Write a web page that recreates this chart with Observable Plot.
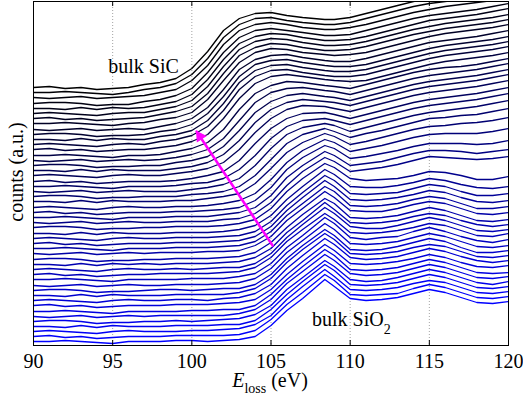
<!DOCTYPE html>
<html><head><meta charset="utf-8">
<script src="https://cdn.jsdelivr.net/npm/d3@7"></script>
<script src="https://cdn.jsdelivr.net/npm/@observablehq/plot@0.6"></script>
<style>body{margin:0;background:#fff} svg{display:block}</style>
</head><body><div id="chart"></div>
<script>
// Energy-loss grid (eV)
const energy = [90,91,92,93,94,95,96,97,98,99,100,101,102,103,104,105,106,107,108.4,109,110,111,112,113,114,115,116,117,118,119,120];
const xTicks = [90,95,100,105,110,115,120];
const gridTicks = [95,100,105,110,115];
// waterfall offsets (a.u.), top spectrum (bulk SiC) first, bottom (bulk SiO2) last
const offsets = [258,253,248,242,237,232,227,222,216,211,206,201,196,190,185,180,175,170,164,159,154,149,144,138,133,128,123,118,112,107,102,97,92,86,81,76,71,66,60,55,50,45,40,34,29,24,19,14,9,4];
// spectra (counts above each offset, a.u.)
const spectra = [
[0,1,-1,0,-2,-1,0,3,5,9,19,36,57,69,74,75,72,70,68,68,70,74,78,82,86,89,91,93,95,98,101],
[0,0,1,0,-1,-2,0,3,5,9,18,34,55,68,74,75,72,70,68,68,70,74,78,82,86,89,91,93,95,98,101],
[0,-1,0,1,-1,0,1,2,5,8,17,32,53,67,73,75,73,70,68,68,70,73,77,81,85,88,91,93,95,97,100],
[0,1,1,0,-2,-1,-1,2,4,8,15,31,51,66,73,75,73,71,68,68,69,73,77,81,85,88,90,92,94,97,100],
[0,0,-1,1,-1,1,0,1,4,7,14,29,49,65,72,75,74,71,68,68,69,72,76,80,84,88,90,92,94,97,100],
[0,1,0,-1,-2,0,1,1,4,7,13,27,47,64,72,75,74,71,68,68,69,72,76,80,84,87,90,92,94,96,99],
[0,1,-1,0,-2,-1,0,1,4,7,12,25,45,63,71,75,74,71,68,68,69,72,76,80,84,87,90,92,94,96,99],
[0,0,1,0,-1,-2,0,1,4,6,11,24,43,61,71,75,74,71,69,68,69,71,75,79,83,87,90,92,94,96,99],
[0,-1,0,1,-1,0,1,0,3,6,11,22,40,60,70,74,75,72,69,68,68,71,75,79,83,87,89,91,93,96,99],
[0,1,1,0,-2,-1,-1,0,3,5,10,21,38,58,70,74,75,72,69,68,68,70,74,78,82,86,89,91,93,95,98],
[0,0,-1,1,-1,1,0,0,3,5,9,19,36,57,69,74,75,72,69,68,68,70,74,78,82,86,89,91,93,95,98],
[0,1,0,-1,-2,0,1,0,3,5,9,18,34,55,68,74,75,72,69,68,68,70,74,78,82,86,89,91,93,95,98],
[0,1,-1,0,-2,-1,0,0,2,4,8,15,31,51,66,73,75,73,70,69,68,69,73,77,81,85,88,90,92,94,97],
[0,0,1,0,-1,-2,0,0,1,4,7,13,26,46,62,70,74,73,70,69,67,71,75,79,83,86,88,89,91,94,97],
[0,-1,0,1,-1,0,1,0,1,3,6,11,22,40,58,68,72,73,70,69,66,70,74,78,82,85,87,89,91,94,97],
[0,1,1,0,-2,-1,-1,0,0,3,5,9,19,35,53,64,70,72,69,68,65,69,73,77,81,84,86,88,90,93,96],
[0,0,-1,1,-1,1,0,0,0,2,4,8,16,30,48,61,68,71,69,68,65,69,73,77,81,84,86,88,90,93,96],
[0,1,0,-1,-2,0,1,0,0,2,4,7,13,26,43,57,66,70,69,67,64,68,72,76,80,83,85,87,89,92,95],
[0,1,-1,0,-2,-1,0,0,0,1,3,6,10,21,38,53,63,68,69,67,63,67,71,75,79,82,84,86,88,91,94],
[0,0,1,0,-1,-2,0,0,0,1,3,4,8,17,31,48,60,66,68,66,62,66,70,74,78,81,83,85,87,90,93],
[0,-1,0,1,-1,0,1,0,0,0,2,4,7,13,26,43,57,64,68,66,60,64,68,72,76,79,81,83,85,88,91],
[0,1,1,0,-2,-1,-1,0,0,0,2,3,5,10,21,37,53,62,68,65,59,63,66,70,74,78,79,81,82,85,88],
[0,0,-1,1,-1,1,0,0,0,1,1,3,5,8,18,33,49,59,68,65,57,60,64,68,72,75,76,78,79,81,84],
[0,1,0,-1,-2,0,1,0,0,1,1,2,4,7,14,28,45,57,68,65,56,59,62,66,70,73,74,74,74,76,79],
[0,1,-1,0,-2,-1,0,0,0,1,1,2,3,5,12,25,43,55,67,64,54,56,59,62,66,69,69,69,68,69,72],
[0,0,1,0,-1,-2,0,0,0,1,1,1,3,5,10,22,40,52,66,62,52,54,56,60,64,67,67,66,64,66,68],
[0,-1,0,1,-1,0,1,0,0,1,1,1,3,4,9,20,37,51,65,61,51,53,55,58,62,66,65,64,63,64,66],
[0,1,1,0,-2,-1,-1,0,0,1,1,1,2,4,8,19,36,49,64,60,49,47,48,49,52,56,55,52,48,48,51],
[0,0,-1,1,-1,1,0,0,0,1,1,1,2,4,8,18,34,47,64,59,47,46,46,48,51,55,53,49,46,45,47],
[0,1,0,-1,-2,0,1,0,0,1,1,1,2,3,7,17,33,46,63,58,45,44,45,46,50,54,52,47,43,43,45],
[0,1,-1,0,-2,-1,0,0,0,1,1,1,2,3,7,17,33,46,63,57,44,43,44,46,49,53,51,46,42,41,43],
[0,0,1,0,-1,-2,0,0,0,1,1,1,2,3,7,17,33,45,62,57,43,42,43,45,49,52,50,45,40,40,42],
[0,-1,0,1,-1,0,1,0,1,1,1,2,2,3,8,17,33,45,62,56,43,42,42,45,49,52,50,45,40,39,41],
[0,1,1,0,-2,-1,-1,0,0,1,1,1,2,3,7,17,32,45,61,56,42,41,42,44,48,52,49,44,39,38,40],
[0,0,-1,1,-1,1,0,1,0,1,1,1,2,3,7,16,32,44,62,55,42,41,42,44,48,51,49,44,40,38,40],
[0,1,0,-1,-2,0,1,0,0,1,0,1,2,2,6,16,32,45,62,56,43,41,41,44,48,52,49,44,39,38,40],
[0,1,-1,0,-2,-1,0,0,1,1,1,1,2,3,7,17,33,45,61,55,42,41,42,44,47,51,49,44,39,38,41],
[0,0,1,0,-1,-2,0,0,0,0,1,1,1,3,6,16,32,44,62,56,42,40,42,43,48,52,48,43,39,37,40],
[0,-1,0,1,-1,0,1,0,0,1,1,1,2,3,7,17,33,45,62,56,42,41,42,44,48,52,49,44,39,38,40],
[0,1,1,0,-2,-1,-1,0,1,1,0,1,2,2,6,16,32,45,61,55,41,40,41,44,48,52,49,43,38,38,40],
[0,0,-1,1,-1,1,0,0,0,1,1,1,1,3,7,17,33,46,62,56,42,41,42,44,48,51,49,44,39,38,40],
[0,1,0,-1,-2,0,1,0,0,1,1,0,2,3,7,16,32,45,62,56,43,41,42,44,48,52,49,44,40,38,40],
[0,1,-1,0,-2,-1,0,0,0,1,1,1,2,3,6,16,31,44,61,55,42,41,42,44,47,51,48,43,39,38,40],
[0,0,1,0,-1,-2,0,0,0,0,1,1,2,2,6,17,32,45,62,56,42,41,42,44,48,52,49,44,39,38,39],
[0,-1,0,1,-1,0,1,0,1,1,1,1,1,3,7,17,33,45,62,56,43,41,42,44,48,52,49,44,39,38,40],
[0,1,1,0,-2,-1,-1,0,0,1,0,1,2,3,7,16,32,44,61,55,42,40,41,44,48,52,49,44,39,37,40],
[0,0,-1,1,-1,1,0,0,0,1,1,1,2,2,6,17,32,45,62,56,42,41,42,44,48,52,49,44,39,38,40],
[0,1,0,-1,-2,0,1,0,0,0,1,1,2,3,7,16,32,45,62,55,42,41,42,44,48,51,49,44,39,38,40],
[0,1,-1,0,-2,-1,0,0,0,1,1,1,1,2,6,17,32,44,62,56,42,41,42,43,48,52,49,44,39,38,40],
[0,0,1,0,-1,-2,0,0,0,1,1,0,1,2,5,16,31,43,62,55,43,41,42,44,48,52,49,44,39,38,40]
];
// annotation anchors in data units
const arrowFrom = [105.1, 100];
const arrowTo = [100.3, 214];
const sicLabel = [94.75, 272];
const sio2Label = [107.62, 19];

const rows = [];
spectra.forEach((s, k) => s.forEach((d, j) => rows.push({e: energy[j], v: offsets[k] + d, k})));

const serif = "'Liberation Serif','Times New Roman',serif";
const plot = Plot.plot({
  width: 523, height: 398,
  marginLeft: 33, marginRight: 15, marginTop: 1, marginBottom: 53,
  style: {fontFamily: serif, fontSize: "20px", background: "white", color: "black"},
  x: {domain: [90, 120]},
  y: {domain: [0, 344], axis: null},
  color: {type: "linear", domain: [0, 49], range: ["#000000", "#0000ff"], interpolate: d3.interpolateRgb},
  marks: [
    Plot.ruleX(gridTicks, {stroke: "#8c8c8c", strokeDasharray: "1,2", strokeWidth: 0.8}),
    Plot.line(rows, {x: "e", y: "v", z: "k", stroke: "k", strokeWidth: 1.3, clip: true}),
    Plot.ruleX(xTicks, {y1: 0, y2: 5, stroke: "black"}),
    Plot.ruleX(xTicks, {y1: 339, y2: 344, stroke: "black"}),
    Plot.arrow([{x1: arrowFrom[0], y1: arrowFrom[1], x2: arrowTo[0], y2: arrowTo[1]}],
      {x1: "x1", y1: "y1", x2: "x2", y2: "y2", stroke: "#ff00ff", strokeWidth: 2.5, headLength: 0, bend: 0}),
    Plot.dot([{x: arrowTo[0], y: arrowTo[1]}],
      {x: "x", y: "y", symbol: "triangle", r: 3.8, rotate: -33.7, dx: 3.3, dy: 4.9, fill: "#ff00ff", stroke: "#ff00ff", strokeWidth: 1}),
    Plot.axisX(xTicks, {tickSize: 0, tickPadding: 8, fontSize: 20, label: null, tickFormat: d => String(d)}),
    Plot.frame({stroke: "black", strokeWidth: 1})
  ]
});
document.getElementById("chart").appendChild(plot);

const sx = plot.scale("x"), sy = plot.scale("y");
const svg = d3.select(plot);
svg.append("text").attr("x", sx.apply(sicLabel[0])).attr("y", sy.apply(sicLabel[1]))
  .attr("text-anchor", "start").attr("font-family", serif).attr("font-size", 20).attr("fill", "black").text("bulk SiC");
const t2 = svg.append("text").attr("x", sx.apply(sio2Label[0])).attr("y", sy.apply(sio2Label[1]))
  .attr("text-anchor", "start").attr("font-family", serif).attr("font-size", 20).attr("fill", "black");
t2.append("tspan").text("bulk SiO");
t2.append("tspan").attr("font-size", 14).attr("dy", 8).text("2");
// axis labels
const xl = svg.append("text").attr("x", 270).attr("y", 387).attr("text-anchor", "middle")
  .attr("font-family", serif).attr("font-size", 20).attr("fill", "black");
xl.append("tspan").attr("font-style", "italic").text("E");
xl.append("tspan").attr("font-size", 14).attr("dy", 6).text("loss");
xl.append("tspan").attr("dy", -6).text(" (eV)");
svg.append("text").attr("transform", "translate(23,172) rotate(-90)").attr("text-anchor", "middle")
  .attr("font-family", serif).attr("font-size", 20).attr("fill", "black").text("counts (a.u.)");
</script>
</body></html>
